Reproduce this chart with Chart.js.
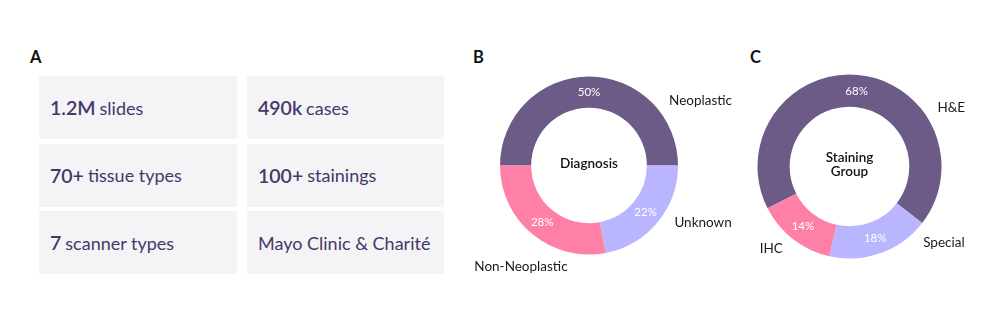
<!DOCTYPE html>
<html>
<head>
<meta charset="utf-8">
<script src="https://cdn.jsdelivr.net/npm/chart.js@4.4.1/dist/chart.umd.min.js"></script>
<style>
  body { margin: 0; width: 997px; height: 315px; background: #fff; position: relative; overflow: hidden; font-family: Lato, "Open Sans", sans-serif; }
  .letter { position: absolute; font-weight: 700; font-size: 16.5px; line-height: 16px; color: #111; }
  #stats { position: absolute; left: 39px; top: 76px; display: grid; grid-template-columns: 198px 197px; grid-auto-rows: 63px; column-gap: 10px; row-gap: 4.5px; }
  .box { background: #f4f4f7; color: #46376a; display: flex; align-items: center; padding-left: 11px; font-size: 18px; white-space: nowrap; }
  .box b { font-size: 19.5px; font-weight: 600; margin-right: 4px; }
  .wrap { position: absolute; }
</style>
</head>
<body>
<div class="letter" style="left:30px;top:49px">A</div>
<div class="letter" style="left:473px;top:49px">B</div>
<div class="letter" style="left:750px;top:49px">C</div>
<div id="stats"></div>
<div class="wrap" style="left:460px;top:40px"><canvas id="chart-diagnosis" width="300" height="250"></canvas></div>
<div class="wrap" style="left:740px;top:40px"><canvas id="chart-staining" width="257" height="250"></canvas></div>
<script>
// Painel A: números do dataset
const statValues = ['1.2M', '490k', '70+', '100+', '7', ''];
const statLabels = ['slides', 'cases', 'tissue types', 'stainings', 'scanner types', 'Mayo Clinic & Charité'];

// Painel B: diagnóstico
const diagnosisLabels = ['Neoplastic', 'Unknown', 'Non-Neoplastic'];
const diagnosisShares = [50, 22, 28];

// Painel C: grupo de coloração
const stainingLabels = ['H&E', 'Special', 'IHC'];
const stainingShares = [68, 18, 14];

const sliceColors = ['#6b5b86', '#b9b5ff', '#ff80a6'];

const stats = document.getElementById('stats');
statLabels.forEach((label, i) => {
  const box = document.createElement('div');
  box.className = 'box';
  if (statValues[i]) {
    const num = document.createElement('b');
    num.textContent = statValues[i];
    box.appendChild(num);
  }
  box.appendChild(document.createTextNode(label));
  stats.appendChild(box);
});

Chart.defaults.font.family = 'Lato, "Open Sans", sans-serif';

// Escreve percentuais, rótulos externos e texto central
const ringText = {
  id: 'ringText',
  afterDatasetsDraw(chart, args, opts) {
    const ctx = chart.ctx;
    const meta = chart.getDatasetMeta(0);
    const values = chart.data.datasets[0].data;
    ctx.save();
    meta.data.forEach((arc, i) => {
      const p = arc.getProps(['x', 'y', 'startAngle', 'endAngle', 'innerRadius', 'outerRadius'], true);
      const mid = (p.startAngle + p.endAngle) / 2;
      const r = (p.innerRadius + p.outerRadius) / 2;
      ctx.font = '11.5px Lato, sans-serif';
      ctx.fillStyle = '#fff';
      ctx.textAlign = 'center';
      ctx.textBaseline = 'middle';
      ctx.fillText(values[i] + '%', p.x + Math.cos(mid) * r, p.y + Math.sin(mid) * r);

      const a = (opts.labelAngles[i] - 90) * Math.PI / 180;
      const ro = p.outerRadius + 14;
      ctx.font = '13.5px Lato, sans-serif';
      ctx.fillStyle = '#1a1a1a';
      ctx.textAlign = Math.cos(a) >= 0 ? 'left' : 'right';
      ctx.fillText(chart.data.labels[i], p.x + Math.cos(a) * ro, p.y + Math.sin(a) * ro);
    });
    const c = meta.data[0];
    ctx.font = '600 13.5px Lato, sans-serif';
    ctx.fillStyle = '#111';
    ctx.textAlign = 'center';
    const lines = opts.center;
    lines.forEach((line, k) => {
      ctx.fillText(line, c.x, c.y - 2 + (k - (lines.length - 1) / 2) * 14);
    });
    ctx.restore();
  }
};

function doughnut(id, labels, shares, rotation, padding, center, labelAngles) {
  return new Chart(document.getElementById(id), {
    type: 'doughnut',
    data: {
      labels: labels,
      datasets: [{
        data: shares,
        backgroundColor: sliceColors,
        borderWidth: 0
      }]
    },
    options: {
      responsive: false,
      animation: false,
      devicePixelRatio: 1,
      cutout: '65%',
      rotation: rotation,
      layout: { padding: padding },
      plugins: {
        legend: { display: false },
        tooltip: { enabled: false },
        ringText: { center: center, labelAngles: labelAngles }
      }
    },
    plugins: [ringText]
  });
}

doughnut('chart-diagnosis', diagnosisLabels, diagnosisShares, -90,
  { left: 40, right: 82, top: 36.5, bottom: 35.5 }, ['Diagnosis'], [51, 124, 192]);
doughnut('chart-staining', stainingLabels, stainingShares, -117,
  { left: 17.5, right: 55.5, top: 34.5, bottom: 31.5 }, ['Staining', 'Group'], [56, 136, 219]);
</script>
</body>
</html>
